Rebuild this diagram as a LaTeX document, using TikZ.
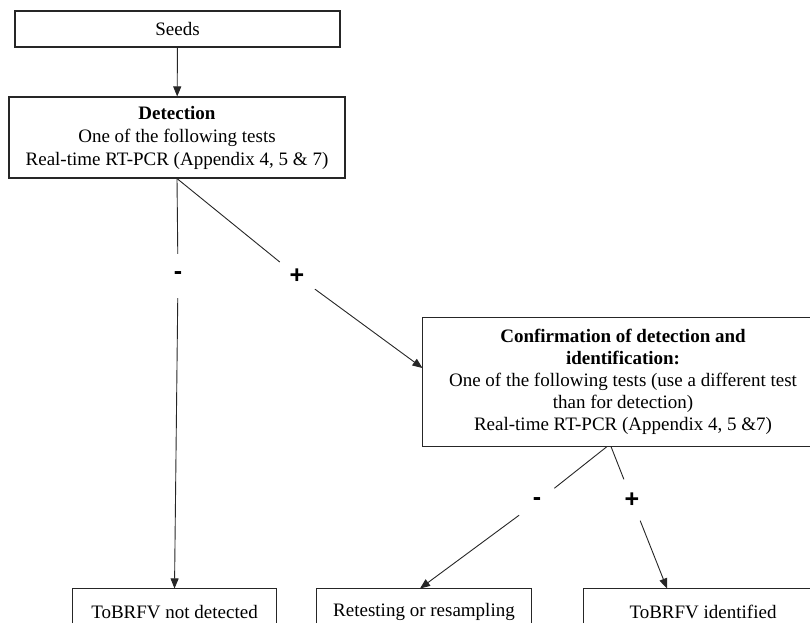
\documentclass[tikz,border=0pt]{standalone}
\usepackage{fontspec}
\setmainfont{Liberation Serif}
\newfontfamily\signfont{Liberation Sans}
\usetikzlibrary{arrows.meta}
\begin{document}
\begin{tikzpicture}[x=1pt,y=-1pt,
  box/.style={draw=black!85,line width=1.1pt,rectangle,inner sep=0pt,align=center,
    font=\fontsize{19}{23}\selectfont},
  openbox/.style={box,draw=none},
  frame/.style={draw=black!85,line width=1.1pt},
  sign/.style={circle,inner sep=0pt,minimum size=44pt,font=\signfont\bfseries\fontsize{25}{25}\selectfont},
  link/.style={draw=black!85,line width=0.9pt},
  arr/.style={link,-{Triangle[length=10pt,width=8pt]}}]
\useasboundingbox (0,0) rectangle (810,623);
\coordinate (bot) at (0,623);
\coordinate (rgt) at (810,0);
\node[box,minimum width=325pt,minimum height=36pt] (seeds) at (177.5,29) {Seeds};
\node[box,minimum width=336pt,minimum height=81pt] (det) at (177,137.5)
  {\textbf{Detection}\\One of the following tests\\Real-time RT-PCR (Appendix 4, 5 \& 7)};
\node[openbox,minimum width=400pt,minimum height=128pt,font=\fontsize{19}{22}\selectfont] (conf) at (623,382)
  {\textbf{Confirmation of detection and}\\\textbf{identification:}\\One of the following tests (use a different test\\than for detection)\\Real-time RT-PCR (Appendix 4, 5 \&7)};
\node[openbox,minimum width=203pt,minimum height=46pt] (nd) at (174.5,612) {ToBRFV not detected};
\node[openbox,minimum width=214pt,minimum height=46pt] (rr) at (424,612) {Retesting or resampling};
\node[openbox,minimum width=238pt,minimum height=46pt] (id) at (703,612) {ToBRFV identified};
\draw[frame] (rgt |- conf.north) -- (conf.north west) |- (rgt |- conf.south);
\draw[frame] (nd.west |- bot) |- (nd.north east) -- (nd.east |- bot);
\draw[frame] (rr.west |- bot) |- (rr.north east) -- (rr.east |- bot);
\draw[frame] (id.west |- bot) |- (rgt |- id.north);
\node[sign] (m1) at (178,276) {-};
\node[sign] (p1) at (297,276) {+};
\node[sign] (m2) at (537,502) {-};
\node[sign] (p2) at (632,500) {+};
\coordinate (c1) at ([xshift=-16pt]conf.south);
\coordinate (c2) at ([xshift=-12pt]conf.south);
\coordinate (t1) at ([yshift=14pt]conf.west);
\coordinate (t2) at ([xshift=-4pt]rr.north);
\coordinate (t3) at ([xshift=-36pt]id.north);
\draw[arr] (seeds) -- (det);
\draw[link] (det.south) -- (m1);
\draw[arr] (m1) -- (nd.north);
\draw[link] (det.south) -- (p1);
\draw[arr] (p1) -- (t1);
\draw[link] (c1) -- (m2);
\draw[arr] (m2) -- (t2);
\draw[link] (c2) -- (p2);
\draw[arr] (p2) -- (t3);
\end{tikzpicture}
\end{document}
